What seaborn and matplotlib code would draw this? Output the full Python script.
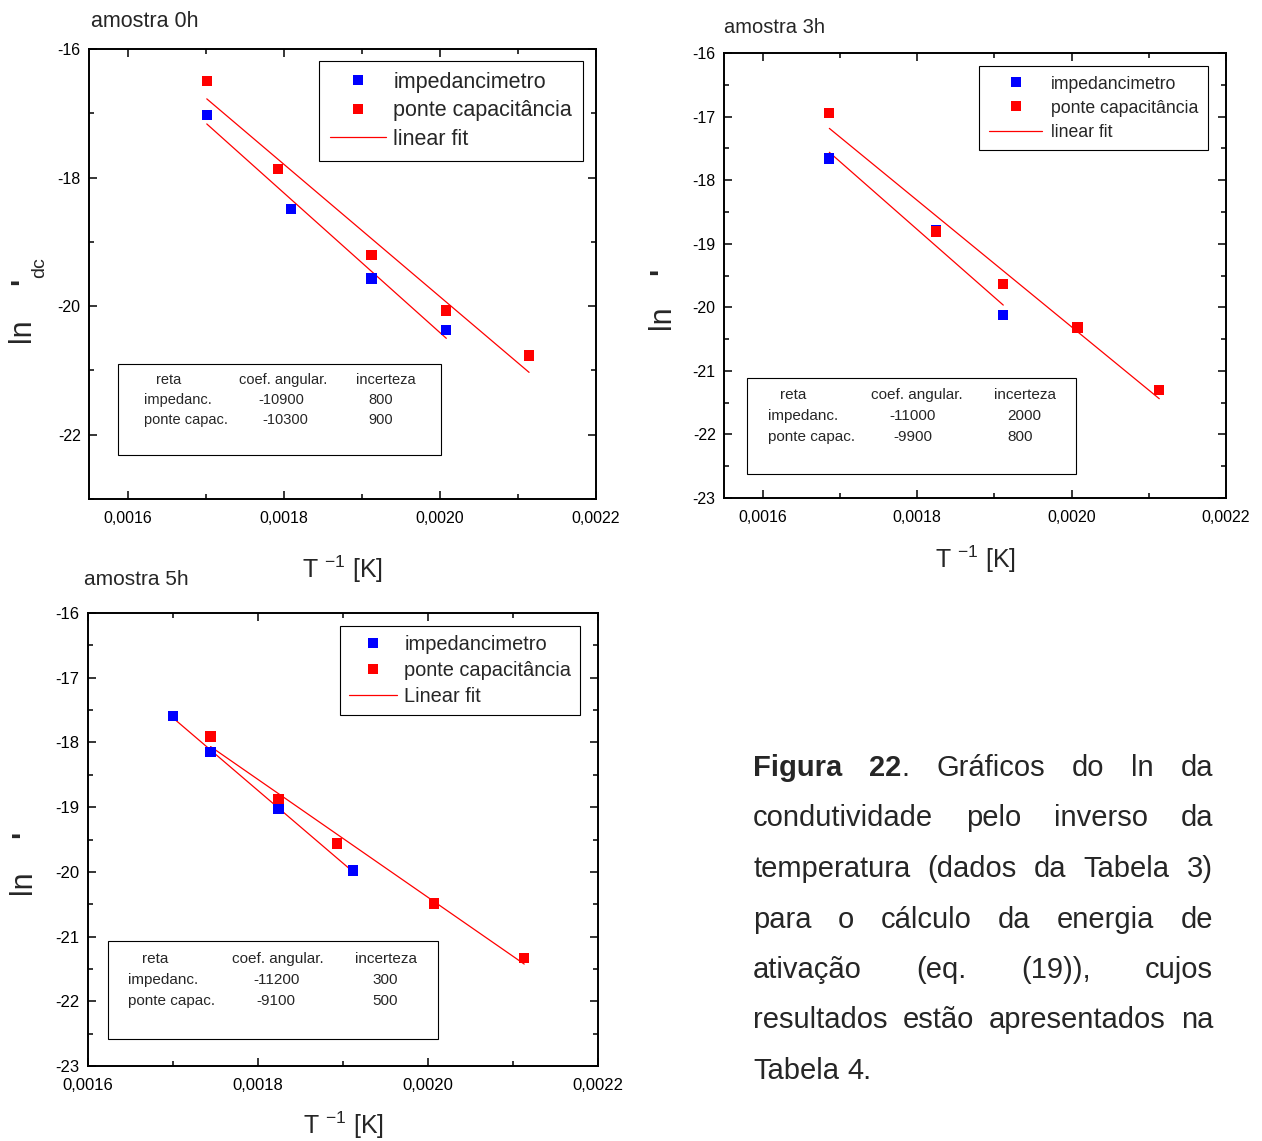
import matplotlib
matplotlib.use('Agg')
import numpy as np
import pandas as pd
import seaborn as sns
import matplotlib.pyplot as plt
from matplotlib.lines import Line2D
from matplotlib.patches import Rectangle
from matplotlib.ticker import MultipleLocator

sns.set_style('ticks')
plt.rcParams['font.family'] = ['Liberation Sans', 'DejaVu Sans']
plt.rcParams['mathtext.default'] = 'regular'
plt.rcParams['axes.unicode_minus'] = False

# ---- data ----
# amostra 0h
x0_imp = [0.001701, 0.0018086, 0.0019122, 0.0020081]
y0_imp = [-17.03, -18.49, -19.57, -20.37]
x0_pon = [0.001701, 0.0017924, 0.0019122, 0.0020081, 0.0021142]
y0_pon = [-16.50, -17.87, -19.20, -20.07, -20.77]

# amostra 3h
x3_imp = [0.0016864, 0.0018242, 0.0019116]
y3_imp = [-17.66, -18.78, -20.12]
x3_pon = [0.0016864, 0.0018249, 0.0019116, 0.0020077, 0.0021136]
y3_pon = [-16.94, -18.81, -19.63, -20.32, -21.30]

# amostra 5h
x5_imp = [0.0017001, 0.0017442, 0.0018242, 0.0019115]
y5_imp = [-17.59, -18.15, -19.03, -19.98]
x5_pon = [0.0017442, 0.0018242, 0.0018928, 0.0020073, 0.0021132]
y5_pon = [-17.91, -18.87, -19.56, -20.49, -21.33]

series_names = ['impedancimetro', 'ponte capacitância']
fit_labels = ['linear fit', 'linear fit', 'Linear fit']
titles = ['amostra 0h', 'amostra 3h', 'amostra 5h']

xticks = [0.0016, 0.0018, 0.0020, 0.0022]
xticklabels = ['0,0016', '0,0018', '0,0020', '0,0022']
yticks_0h = [-16, -18, -20, -22]
yticks_all = [-16, -17, -18, -19, -20, -21, -22, -23]

tab_header = ['reta', 'coef. angular.', 'incerteza']
tab0_rows = [['impedanc.', '-10900', '800'], ['ponte capac.', '-10300', '900']]
tab3_rows = [['impedanc.', '-11000', '2000'], ['ponte capac.', '-9900', '800']]
tab5_rows = [['impedanc.', '-11200', '300'], ['ponte capac.', '-9100', '500']]

caption_lines = ['Figura 22. Gráficos do ln da',
                 'condutividade pelo inverso da',
                 'temperatura (dados da Tabela 3)',
                 'para o cálculo da energia de',
                 'ativação (eq. (19)), cujos',
                 'resultados estão apresentados na',
                 'Tabela 4.']
bold_words = ['Figura', '22']

W, H = 1262, 1141
fig = plt.figure(figsize=(W / 100, H / 100), dpi=100)


def px_axes(l, t, r, b):
    return fig.add_axes([l / W, 1 - b / H, (r - l) / W, (b - t) / H])


def draw_panel(ax, x_imp, y_imp, x_pon, y_pon):
    df = pd.concat([
        pd.DataFrame({'x': x_imp, 'y': y_imp, 'serie': series_names[0]}),
        pd.DataFrame({'x': x_pon, 'y': y_pon, 'serie': series_names[1]}),
    ])
    sns.regplot(x=np.array(x_imp), y=np.array(y_imp), scatter=False, ci=None, truncate=True,
                color='red', line_kws=dict(lw=0.9), ax=ax)
    sns.regplot(x=np.array(x_pon), y=np.array(y_pon), scatter=False, ci=None, truncate=True,
                color='red', line_kws=dict(lw=0.9), ax=ax)
    sns.scatterplot(data=df, x='x', y='y', hue='serie',
                    palette={series_names[0]: '#0000ff', series_names[1]: '#ff0000'},
                    marker='s', s=55, linewidth=0, legend=False, zorder=3, ax=ax)


def style_axes(ax, xlim, yticks, ylabels, yminor, tick_fs):
    ax.set_xlim(*xlim)
    ax.set_ylim(-23, -16)
    ax.set_xticks(xticks, labels=xticklabels)
    ax.xaxis.set_minor_locator(MultipleLocator(0.0001))
    ax.set_yticks(yticks, labels=ylabels)
    ax.yaxis.set_minor_locator(MultipleLocator(yminor))
    ax.tick_params(which='both', direction='in', top=True, right=True, width=1.1,
                   labelsize=tick_fs, color='black', labelcolor='black')
    ax.tick_params(which='major', length=6)
    ax.tick_params(axis='y', which='major', pad=6)
    ax.tick_params(axis='x', which='major', pad=8.5)
    ax.tick_params(which='minor', length=3.5)
    for s in ax.spines.values():
        s.set_linewidth(1.4)
        s.set_color('black')
    ax.set_ylabel('')


def add_legend(ax, label_fit, anchor, fs, spacing, pad, hlen, htpad):
    handles = [Line2D([], [], marker='s', ls='none', color='#0000ff', markersize=7, mew=0),
               Line2D([], [], marker='s', ls='none', color='#ff0000', markersize=7, mew=0),
               Line2D([], [], color='red', lw=0.9)]
    leg = ax.legend(handles, series_names + [label_fit], loc='upper right', bbox_to_anchor=anchor,
                    borderaxespad=0, fontsize=fs, frameon=True, fancybox=False, edgecolor='black',
                    framealpha=1, handlelength=hlen, handletextpad=htpad, labelspacing=spacing,
                    borderpad=pad)
    leg.get_frame().set_linewidth(0.8)


def add_table(ax, box, cols, rows_y, first_x, rows, row_cols, fs):
    x0, y0, x1, y1 = box
    ax.add_patch(Rectangle((x0, y0), x1 - x0, y1 - y0, transform=ax.transAxes,
                           fill=False, lw=0.8, ec='black', zorder=4))
    for c, txt in zip(cols, tab_header):
        ax.text(c, rows_y[0], txt, transform=ax.transAxes, ha='center', va='center', fontsize=fs)
    for r, row in enumerate(rows):
        y = rows_y[r + 1]
        ax.text(first_x, y, row[0], transform=ax.transAxes, ha='left', va='center', fontsize=fs)
        ax.text(row_cols[r][0], y, row[1], transform=ax.transAxes, ha='center', va='center', fontsize=fs)
        ax.text(row_cols[r][1], y, row[2], transform=ax.transAxes, ha='center', va='center', fontsize=fs)


# ---- panel amostra 0h ----
ax0 = px_axes(89, 49, 596, 499)
draw_panel(ax0, x0_imp, y0_imp, x0_pon, y0_pon)
style_axes(ax0, (0.00155, 0.0022), yticks_0h, [str(t) for t in yticks_0h], 1, 11.5)
ax0.set_xlabel(r'T $^{-1}$ [K]', fontsize=18, labelpad=20)
ax0.text(0.004, 1.062, titles[0], transform=ax0.transAxes, fontsize=15.5, ha='left', va='center')
add_legend(ax0, fit_labels[0], (0.974, 0.973), 15.5, 0.35, 0.5, 2.6, 0.35)
add_table(ax0, (0.057, 0.098, 0.694, 0.30), (0.158, 0.383, 0.586), (0.264, 0.22, 0.176), 0.108,
          tab0_rows, [(0.379, 0.576), (0.387, 0.576)], 10.5)
fig.text(22 / W, 1 - 330 / H, 'ln', rotation=90, fontsize=22, ha='center', va='center')
fig.text(24 / W, 1 - 281 / H, "'", rotation=90, fontsize=22, ha='center', va='center', fontweight='bold')
fig.text(40 / W, 1 - 268 / H, 'dc', rotation=90, fontsize=14, ha='center', va='center')

# ---- panel amostra 3h ----
ax3 = px_axes(724, 53, 1226, 498)
draw_panel(ax3, x3_imp, y3_imp, x3_pon, y3_pon)
style_axes(ax3, (0.00155, 0.0022), yticks_all, [str(t) for t in yticks_all], 0.5, 11.5)
ax3.set_xlabel(r'T $^{-1}$ [K]', fontsize=18, labelpad=13.5)
ax3.text(0.0, 1.058, titles[1], transform=ax3.transAxes, fontsize=14.5, ha='left', va='center')
add_legend(ax3, fit_labels[1], (0.964, 0.971), 12.7, 0.4, 0.55, 3.0, 0.5)
add_table(ax3, (0.046, 0.054, 0.701, 0.27), (0.137, 0.384, 0.6), (0.231, 0.184, 0.137), 0.088,
          tab3_rows, [(0.376, 0.598), (0.376, 0.59)], 11)
fig.text(662 / W, 1 - 317 / H, 'ln', rotation=90, fontsize=22, ha='center', va='center')
fig.text(663 / W, 1 - 271 / H, "'", rotation=90, fontsize=22, ha='center', va='center', fontweight='bold')

# ---- panel amostra 5h ----
ax5 = px_axes(88, 613, 598, 1066)
draw_panel(ax5, x5_imp, y5_imp, x5_pon, y5_pon)
style_axes(ax5, (0.0016, 0.0022), yticks_all, [str(t) for t in yticks_all], 0.5, 12)
ax5.set_xlabel(r'T $^{-1}$ [K]', fontsize=18, labelpad=12)
ax5.text(-0.008, 1.073, titles[2], transform=ax5.transAxes, fontsize=15, ha='left', va='center')
add_legend(ax5, fit_labels[2], (0.965, 0.971), 14.4, 0.35, 0.45, 2.4, 0.35)
add_table(ax5, (0.039, 0.06, 0.686, 0.276), (0.131, 0.373, 0.584), (0.236, 0.19, 0.143), 0.078,
          tab5_rows, [(0.369, 0.582), (0.369, 0.582)], 11)
fig.text(23 / W, 1 - 882 / H, 'ln', rotation=90, fontsize=22, ha='center', va='center')
fig.text(25 / W, 1 - 834 / H, "'", rotation=90, fontsize=22, ha='center', va='center', fontweight='bold')

# ---- justified caption ----
renderer = fig.canvas.get_renderer()
cap_left, cap_right, cap_top, cap_step, cap_fs = 753, 1213, 768, 50.5, 21
for i, line in enumerate(caption_lines):
    y = 1 - (cap_top + i * cap_step) / H
    words = []
    for w in line.split(' '):
        segs = [(w, 'normal')]
        for b in bold_words:
            if w.startswith(b):
                segs = [(b, 'bold')] + ([(w[len(b):], 'normal')] if w[len(b):] else [])
        objs = []
        for txt, wt in segs:
            t = fig.text(0, y, txt, fontsize=cap_fs, fontweight=wt, ha='left', va='center')
            objs.append((t, t.get_window_extent(renderer).width))
        words.append(objs)
    widths = [sum(wd for _, wd in objs) for objs in words]
    if i < len(caption_lines) - 1 and len(words) > 1:
        gap = (cap_right - cap_left - sum(widths)) / (len(words) - 1)
    else:
        gap = fig.text(0, 0, ' ', fontsize=cap_fs).get_window_extent(renderer).width
    x = cap_left
    for objs, wd in zip(words, widths):
        xx = x
        for t, tw in objs:
            t.set_x(xx / W)
            xx += tw
        x += wd + gap

fig.savefig('out.png', dpi=100)
